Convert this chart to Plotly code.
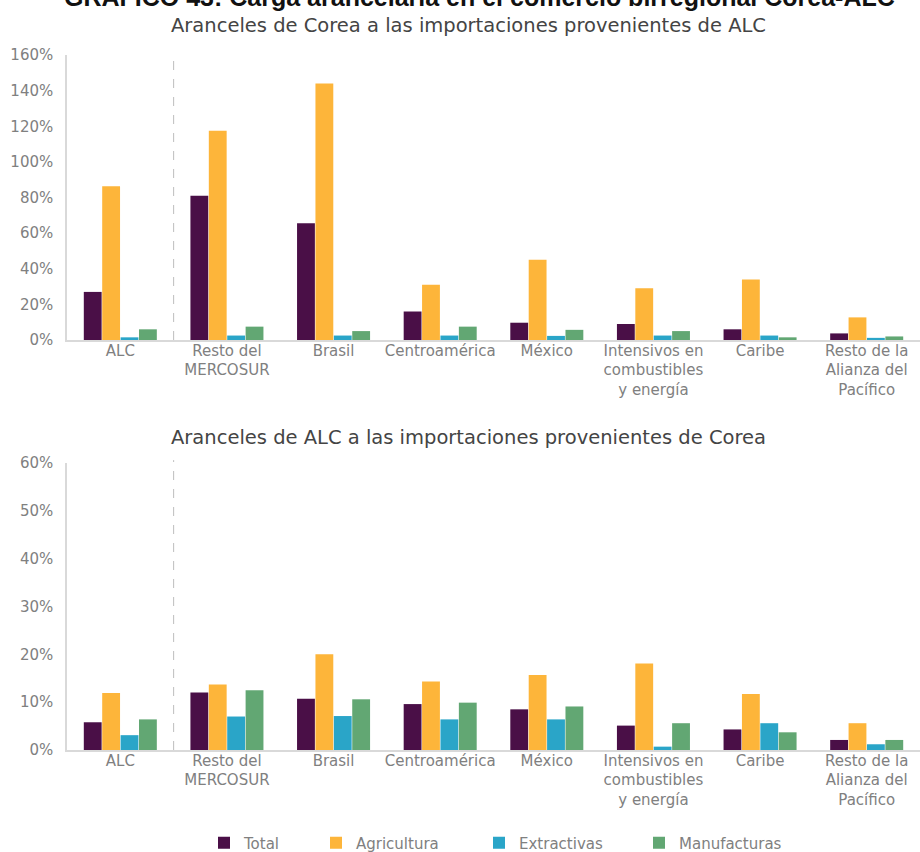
import plotly.graph_objects as go

# Regions (category axis labels)
regions = [
    "ALC",
    "Resto del<br>MERCOSUR",
    "Brasil",
    "Centroamérica",
    "México",
    "Intensivos en<br>combustibles<br>y energía",
    "Caribe",
    "Resto de la<br>Alianza del<br>Pacífico",
]

# Korean tariffs on imports from LAC (%)
corea_total = [27, 81, 65.5, 16, 9.7, 9, 6, 3.7]
corea_agricultura = [86.3, 117.5, 144, 31, 45, 29, 34, 12.7]
corea_extractivas = [1.5, 2.5, 2.5, 2.5, 2.3, 2.5, 2.5, 1.2]
corea_manufacturas = [6, 7.5, 5, 7.5, 5.7, 5, 1.5, 2]

# LAC tariffs on imports from Korea (%)
alc_total = [5.8, 12, 10.7, 9.6, 8.5, 5.1, 4.3, 2.1]
alc_agricultura = [11.9, 13.7, 20, 14.3, 15.7, 18.1, 11.7, 5.6]
alc_extractivas = [3.1, 7, 7.1, 6.4, 6.4, 0.7, 5.6, 1.2]
alc_manufacturas = [6.4, 12.5, 10.6, 9.9, 9.1, 5.6, 3.7, 2.1]

series_names = ["Total", "Agricultura", "Extractivas", "Manufacturas"]
colors = ["#4a0f47", "#fdb53a", "#2aa5c8", "#62a773"]

top_ticks = [0, 20, 40, 60, 80, 100, 120, 140, 160]
bottom_ticks = [0, 10, 20, 30, 40, 50, 60]

W, H = 920, 852
ML = 67
FONT = "DejaVu Sans"
GRAY = "#808080"

# left edge (px) of each legend entry, one legend per series
legend_x_px = [204, 316, 479, 639]
legend_ids = ["legend", "legend2", "legend3", "legend4"]

fig = go.Figure()

top_series = [corea_total, corea_agricultura, corea_extractivas, corea_manufacturas]
bottom_series = [alc_total, alc_agricultura, alc_extractivas, alc_manufacturas]

for name, color, vals, lg in zip(series_names, colors, top_series, legend_ids):
    fig.add_trace(go.Bar(x=regions, y=vals, name=name, marker_color=color,
                         marker_line_width=0, legendgroup=name, legend=lg,
                         xaxis="x", yaxis="y"))
for name, color, vals in zip(series_names, colors, bottom_series):
    fig.add_trace(go.Bar(x=regions, y=vals, name=name, marker_color=color,
                         marker_line_width=0, legendgroup=name, showlegend=False,
                         xaxis="x2", yaxis="y2"))


def py(px):
    """Convert a pixel row (from the top) to paper/container coordinates."""
    return 1 - px / H


def px_x(px):
    """Convert a pixel column to paper x coordinates."""
    return (px - ML) / (W - ML)


axis_common = dict(
    showgrid=False, zeroline=False, showline=True, linecolor="#d9d9d9",
    linewidth=1.5, ticks="", automargin=False,
    tickfont=dict(family=FONT, size=15, color=GRAY),
)

legend_layout = {}
for lg, xpx in zip(legend_ids, legend_x_px):
    legend_layout[lg] = dict(
        orientation="h", xref="container", x=xpx / W, xanchor="left",
        yref="container", y=py(843), yanchor="middle",
        font=dict(family=FONT, size=15, color=GRAY),
        bgcolor="rgba(0,0,0,0)", borderwidth=0,
    )

fig.update_layout(
    template="none",
    width=W, height=H,
    margin=dict(l=ML, r=0, t=0, b=0, autoexpand=False),
    paper_bgcolor="white", plot_bgcolor="white",
    barmode="group", bargap=0.31, bargroupgap=0.03,
    font=dict(family=FONT, color=GRAY),
    xaxis=dict(domain=[0, 1], anchor="y", ticklabelstandoff=-4, **axis_common),
    yaxis=dict(domain=[py(340), py(55)], anchor="x", range=[0, 160],
               tickvals=top_ticks, ticktext=[f"{v}%" for v in top_ticks],
               ticklabelstandoff=9, **axis_common),
    xaxis2=dict(domain=[0, 1], anchor="y2", ticklabelstandoff=-4, **axis_common),
    yaxis2=dict(domain=[py(750), py(463)], anchor="x2", range=[0, 60],
                tickvals=bottom_ticks, ticktext=[f"{v}%" for v in bottom_ticks],
                ticklabelstandoff=9, **axis_common),
    showlegend=True,
    **legend_layout,
)

# Dashed separators between the LAC aggregate and its subregions
for xa, ya in (("x", "y"), ("x2", "y2")):
    fig.add_shape(type="line", xref=xa, yref=f"{ya} domain", x0=0.5, x1=0.5,
                  y0=0, y1=1.01, line=dict(color="#bdbdbd", width=1, dash="dash"))

# Main and panel titles
fig.add_annotation(text="<b>GRÁFICO 43: Carga arancelaria en el comercio birregional Corea-ALC</b>",
                   xref="paper", yref="paper", x=px_x(479), y=1.0, yshift=3,
                   xanchor="center", yanchor="middle", showarrow=False,
                   font=dict(family="Liberation Sans", size=25, color="#111111"))
fig.add_annotation(text="Aranceles de Corea a las importaciones provenientes de ALC",
                   xref="paper", yref="paper", x=px_x(468), y=py(25),
                   xanchor="center", yanchor="middle", showarrow=False,
                   font=dict(family=FONT, size=19.5, color="#444444"))
fig.add_annotation(text="Aranceles de ALC a las importaciones provenientes de Corea",
                   xref="paper", yref="paper", x=px_x(468), y=py(437),
                   xanchor="center", yanchor="middle", showarrow=False,
                   font=dict(family=FONT, size=19.5, color="#444444"))

fig.write_html("out.html")
